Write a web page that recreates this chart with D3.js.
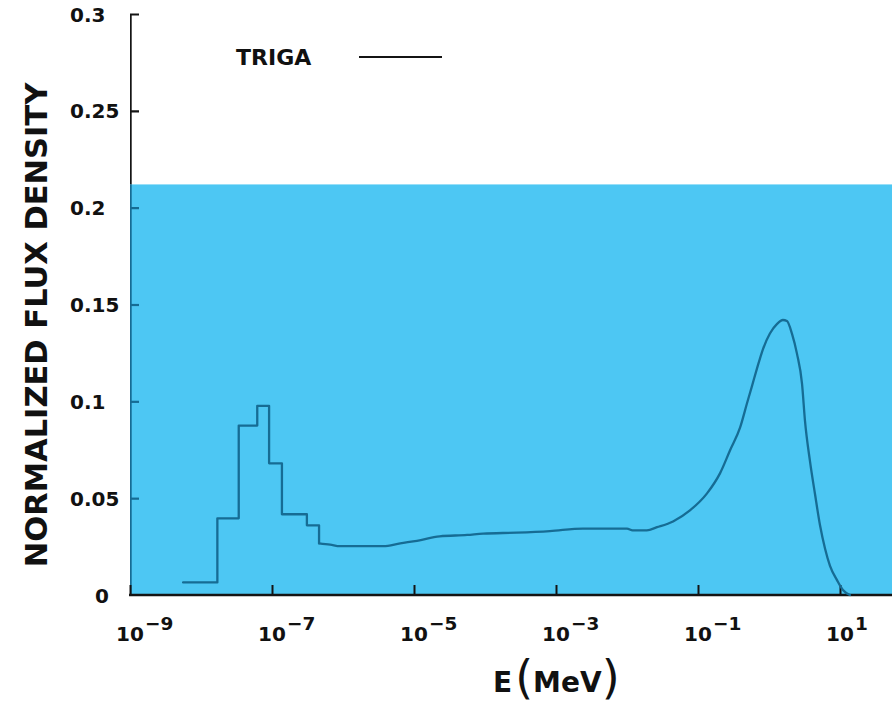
<!DOCTYPE html>
<html>
<head>
<meta charset="utf-8">
<script src="https://cdn.jsdelivr.net/npm/d3@7/dist/d3.min.js"></script>
<style>
  html, body { margin: 0; padding: 0; background: #ffffff; }
  svg { display: block; }
  text { font-family: "DejaVu Sans", sans-serif; font-weight: bold; fill: #111; }
</style>
</head>
<body>
<svg id="chart" width="892" height="703"></svg>
<script>
// Coarse thermal groups: lower/upper bin edges (MeV) and group flux
const groupEdges = [5.6e-9, 1.7e-8, 3.4e-8, 6.2e-8, 9.1e-8, 1.38e-7, 3.1e-7, 4.6e-7];
const groupFlux  = [0.0065, 0.0396, 0.0875, 0.0977, 0.068, 0.0417, 0.036];

// Fine-group spectrum from epithermal to fast energies
const fineEnergy = [4.6e-7, 6.6e-7, 9.1e-7, 3.7e-6, 6.4e-6, 1.1e-5, 2.3e-5, 5.6e-5, 9.4e-5, 2.8e-4,
                    8.2e-4, 2.4e-3, 1.0e-2, 1.2e-2, 1.9e-2, 2.65e-2, 4.45e-2, 7.7e-2, 0.134, 0.204,
                    0.282, 0.391, 0.49, 0.577, 0.678, 0.823, 1.03, 1.30, 1.57, 1.79,
                    2.11, 2.48, 2.92, 3.21, 3.78, 4.45, 5.23, 6.15, 7.23, 9.08,
                    11.0, 13.8];
const fineFlux   = [0.0267, 0.026, 0.0252, 0.0252, 0.0267, 0.028, 0.0303, 0.031, 0.0317, 0.0322,
                    0.033, 0.0343, 0.0343, 0.0334, 0.0334, 0.035, 0.038, 0.0437, 0.0525, 0.0628,
                    0.0746, 0.0864, 0.099, 0.108, 0.117, 0.127, 0.135, 0.140, 0.142, 0.1415,
                    0.1348, 0.1245, 0.109, 0.090, 0.069, 0.052, 0.036, 0.024, 0.015, 0.0077,
                    0.0026, 0.0];

// Axis ticks
const yTickValues = [0, 0.05, 0.1, 0.15, 0.2, 0.25, 0.3];
const yTickLabels = ["0", "0.05", "0.1", "0.15", "0.2", "0.25", "0.3"];
const xTickValues = [1e-9, 1e-7, 1e-5, 1e-3, 1e-1, 1e1];
const xTickExponents = ["\u22129", "\u22127", "\u22125", "\u22123", "\u22121", "1"];

// Shaded band upper level and axis extents
const bandTop = 0.212;
const xMin = 1e-9, xMax = 54;

const svg = d3.select("#chart");
const W = 892;

const x = d3.scaleLog().domain([xMin, xMax]).range([130, W]);
const y = d3.scaleLinear().domain([0, 0.3]).range([595, 14]);

const BLUE = "#4dc7f3";
const INK = "#141414";
const TEAL = "#166c94";

// shaded band
svg.append("rect")
  .attr("x", x(xMin))
  .attr("y", y(bandTop))
  .attr("width", W - x(xMin))
  .attr("height", y(0) - y(bandTop))
  .attr("fill", BLUE);

// clips for the parts of the y axis outside / inside the band
const defs = svg.append("defs");
defs.append("clipPath").attr("id", "outsideBand")
  .append("rect").attr("x", 0).attr("y", 0).attr("width", W).attr("height", y(bandTop));
defs.append("clipPath").attr("id", "insideBand")
  .append("rect").attr("x", 0).attr("y", y(bandTop)).attr("width", W).attr("height", y(0) - y(bandTop) - 1);

function drawYAxis(color, clip) {
  const g = svg.append("g")
    .attr("transform", `translate(${x(xMin)},0)`)
    .attr("clip-path", `url(#${clip})`)
    .call(d3.axisRight(y).tickValues(yTickValues).tickSize(9).tickSizeOuter(0).tickFormat(""));
  g.select(".domain").attr("stroke", color).attr("stroke-width", 2.4);
  g.selectAll(".tick line").attr("stroke", color).attr("stroke-width", 2.2);
}
drawYAxis(INK, "outsideBand");
drawYAxis(TEAL, "insideBand");

// y tick labels, aligned on the decimal point
const yLab = svg.append("g");
yTickValues.forEach((v, i) => {
  const s = yTickLabels[i];
  const t = yLab.append("text")
    .attr("y", y(v))
    .attr("dy", "0.38em")
    .attr("font-size", 20)
    .text(s);
  if (s.indexOf(".") >= 0) t.attr("x", 70).attr("text-anchor", "start");
  else t.attr("x", 109).attr("text-anchor", "end");
});

// x axis: ticks point up into the plot
const gx = svg.append("g")
  .attr("transform", `translate(0,${y(0)})`)
  .call(d3.axisTop(x).tickValues(xTickValues).tickSize(10).tickSizeOuter(0).tickFormat(""));
gx.select(".domain").remove();
gx.selectAll(".tick line").attr("stroke", INK).attr("stroke-width", 2);
svg.append("line")
  .attr("x1", x(xMin) - 1).attr("x2", W)
  .attr("y1", y(0)).attr("y2", y(0))
  .attr("stroke", INK).attr("stroke-width", 2.4);

// x tick labels: "10" centred on the tick with a raised exponent
xTickValues.forEach((v, i) => {
  const base = svg.append("text")
    .attr("x", x(v))
    .attr("y", 641)
    .attr("text-anchor", "middle")
    .attr("font-size", 20)
    .text("10");
  const bw = base.node().getComputedTextLength();
  svg.append("text")
    .attr("x", x(v) + bw / 2 + 1)
    .attr("y", 630)
    .attr("font-size", 18.5)
    .text(xTickExponents[i]);
});

// coarse groups drawn as steps, ending with the drop onto the fine curve
const stepPts = [];
groupFlux.forEach((f, i) => {
  stepPts.push([groupEdges[i], f]);
  stepPts.push([groupEdges[i + 1], f]);
});
stepPts.push([fineEnergy[0], fineFlux[0]]);

const finePts = fineEnergy.map((e, i) => [e, fineFlux[i]]);

const stepLine = d3.line().x(d => x(d[0])).y(d => y(d[1]));
const fineLine = d3.line().x(d => x(d[0])).y(d => y(d[1])).curve(d3.curveMonotoneX);

[[stepPts, stepLine], [finePts, fineLine]].forEach(([data, gen]) => {
  svg.append("path")
    .datum(data)
    .attr("d", gen)
    .attr("fill", "none")
    .attr("stroke", TEAL)
    .attr("stroke-width", 2.3)
    .attr("stroke-linejoin", "round")
    .attr("stroke-linecap", "round");
});

// legend
svg.append("text")
  .attr("x", 236).attr("y", 65)
  .attr("font-size", 22)
  .text("TRIGA");
svg.append("line")
  .attr("x1", 359).attr("x2", 442)
  .attr("y1", 57).attr("y2", 57)
  .attr("stroke", INK).attr("stroke-width", 2.2);

// y axis title
svg.append("text")
  .attr("transform", "translate(47,325) rotate(-90)")
  .attr("text-anchor", "middle")
  .attr("font-size", 30.5)
  .text("NORMALIZED FLUX DENSITY");

// x axis title
const xt = svg.append("text")
  .attr("x", 493).attr("y", 692);
xt.append("tspan").attr("font-size", 28).text("E");
xt.append("tspan").attr("font-size", 46).attr("font-weight", "normal").attr("dx", 3).attr("dy", 1).text("(");
xt.append("tspan").attr("font-size", 28).attr("dy", -1).text("MeV");
xt.append("tspan").attr("font-size", 46).attr("font-weight", "normal").attr("dy", 1).text(")");
</script>
</body>
</html>
